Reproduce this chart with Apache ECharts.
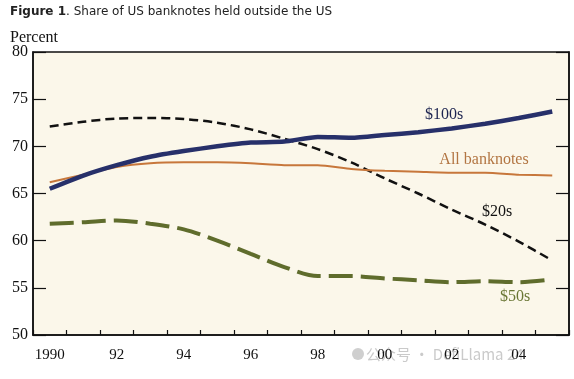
<!DOCTYPE html>
<html>
<head>
<meta charset="utf-8">
<script src="https://cdn.jsdelivr.net/npm/echarts@6/dist/echarts.min.js"></script>
<style>
html,body{margin:0;padding:0;background:#ffffff;}
#chart{width:574px;height:379px;}
</style>
</head>
<body>
<div id="chart"></div>
<script>
var years = ['1990','1991','1992','1993','1994','1995','1996','1997','1998','1999','2000','2001','2002','2003','2004','2005'];
var notes100 = [65.5, 66.9, 68.0, 68.9, 69.5, 70.0, 70.4, 70.5, 71.0, 70.9, 71.2, 71.5, 71.9, 72.4, 73.0, 73.7];
var notesAll = [66.2, 67.0, 67.8, 68.2, 68.3, 68.3, 68.2, 68.0, 68.0, 67.6, 67.4, 67.3, 67.2, 67.2, 67.0, 66.9];
var notes20  = [72.1, 72.6, 72.95, 73.0, 72.9, 72.5, 71.8, 70.8, 69.7, 68.3, 66.6, 65.0, 63.3, 61.7, 59.9, 57.9];
var notes50  = [61.8, 61.95, 62.15, 61.8, 61.2, 60.0, 58.6, 57.2, 56.25, 56.25, 56.0, 55.8, 55.6, 55.7, 55.6, 55.9];
var yTicks = [50, 55, 60, 65, 70, 75, 80];

var chart = echarts.init(document.getElementById('chart'), null, {renderer:'canvas'});
var serif = '"Liberation Serif", "DejaVu Serif", serif';
var option = {
  animation: false,
  backgroundColor: '#ffffff',
  grid: {
    left: 33, right: 5, top: 52, bottom: 44,
    show: true, backgroundColor: '#fbf7ea', borderColor: '#111', borderWidth: 1.5
  },
  xAxis: {
    type: 'category',
    data: years,
    boundaryGap: true,
    z: 10,
    axisLine: {show: true, lineStyle: {color: '#111', width: 1.5}},
    axisTick: {show: true, inside: true, length: 5, interval: 0, lineStyle: {color: '#111', width: 1.2}},
    axisLabel: {
      interval: 1, margin: 13, color: '#111', fontFamily: serif, fontSize: 15, hideOverlap: false,
      formatter: function (v) { return v === '1990' ? v : v.slice(2); }
    },
    splitLine: {show: false}
  },
  yAxis: [{
    type: 'value', min: yTicks[0], max: yTicks[yTicks.length - 1], interval: 5,
    axisLine: {show: true, lineStyle: {color: '#111', width: 1.5}},
    axisTick: {show: true, inside: true, length: 13, lineStyle: {color: '#111', width: 1.2}},
    axisLabel: {color: '#111', fontFamily: serif, fontSize: 16, margin: 5, padding: [4, 0, 0, 0]},
    splitLine: {show: false}
  }, {
    type: 'value', position: 'right', min: yTicks[0], max: yTicks[yTicks.length - 1], interval: 5,
    axisLine: {show: true, lineStyle: {color: '#111', width: 1.5}},
    axisTick: {show: true, inside: true, length: 13, lineStyle: {color: '#111', width: 1.2}},
    axisLabel: {show: false},
    splitLine: {show: false}
  }],
  series: [
    {name: '$50s', type: 'line', data: notes50, symbol: 'none', smooth: 0.3,
     lineStyle: {color: '#5f6c2c', width: 4, type: [24, 8]}},
    {name: '$20s', type: 'line', data: notes20, symbol: 'none', smooth: 0.3,
     lineStyle: {color: '#111', width: 2.5, type: [9, 5]}},
    {name: 'All banknotes', type: 'line', data: notesAll, symbol: 'none', smooth: 0.2,
     lineStyle: {color: '#c7773b', width: 2}},
    {name: '$100s', type: 'line', data: notes100, symbol: 'none', smooth: 0.2,
     lineStyle: {color: '#27306a', width: 4.5}}
  ],
  graphic: [
    {type: 'text', left: 10, top: 6, style: {
      text: '{b|Figure 1}. Share of US banknotes held outside the US',
      font: '12px "DejaVu Sans", sans-serif', fill: '#222',
      rich: {b: {fontWeight: 'bold', fontFamily: '"DejaVu Sans", sans-serif', fontSize: 12, fill: '#222'}}
    }},
    {type: 'text', left: 10, top: 30, style: {text: 'Percent', font: '16px ' + serif, fill: '#111'}},
    {type: 'text', x: 444, y: 115, style: {text: '$100s', font: '16px ' + serif, fill: '#1d2450', align: 'center', verticalAlign: 'middle'}},
    {type: 'text', x: 484, y: 160, style: {text: 'All banknotes', font: '16px ' + serif, fill: '#b27542', align: 'center', verticalAlign: 'middle'}},
    {type: 'text', x: 497, y: 212, style: {text: '$20s', font: '16px ' + serif, fill: '#111', align: 'center', verticalAlign: 'middle'}},
    {type: 'text', x: 515, y: 297, style: {text: '$50s', font: '16px ' + serif, fill: '#6a7735', align: 'center', verticalAlign: 'middle'}},
    {type: 'circle', z: -5, shape: {cx: 358, cy: 354, r: 6}, style: {fill: 'rgba(160,160,160,0.5)'}},
    {type: 'text', z: -5, x: 366, y: 354, style: {text: '公众号 · DefiLlama 24', font: '15px "Noto Sans CJK SC", "Noto Sans", sans-serif', fill: 'rgba(150,150,150,0.5)', verticalAlign: 'middle'}}
  ]
};
chart.setOption(option);
</script>
</body>
</html>
